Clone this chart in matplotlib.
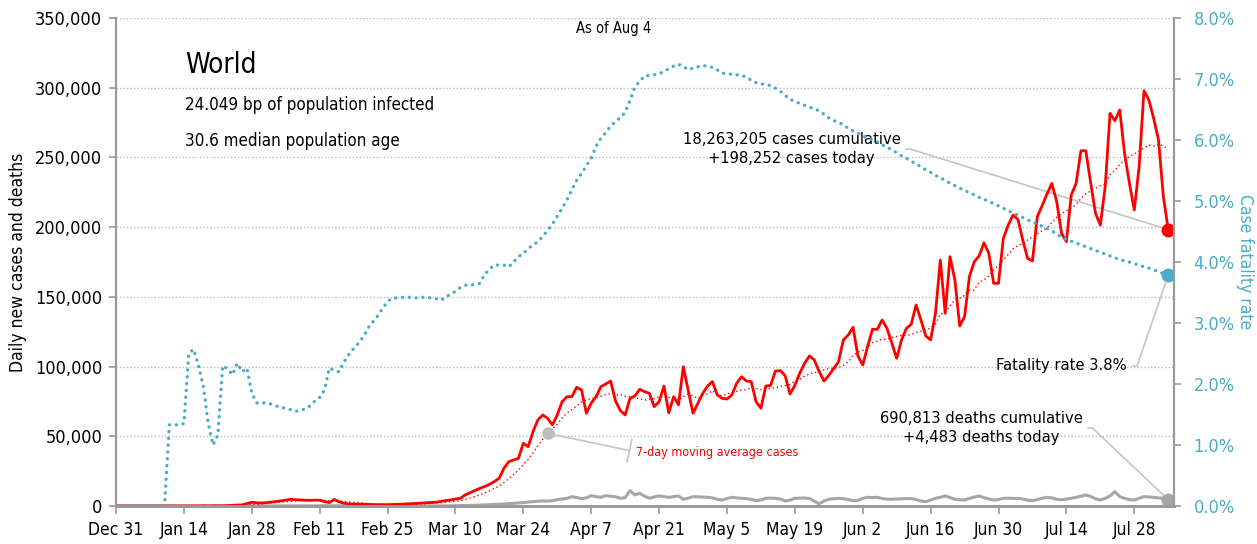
"""
    World COVID-19 daily cases / deaths and case fatality rate, as of Aug 4
"""
import matplotlib
matplotlib.use('Agg')
import matplotlib.pyplot as plt
from matplotlib.ticker import FuncFormatter, MultipleLocator
import pandas as pd

# 窄体字, 接近原图
plt.rcParams['font.family'] = ['DejaVu Sans']
plt.rcParams['font.stretch'] = 'condensed'

# 每天一个值, day 0 = Dec 31, day 217 = Aug 4
cases = [
    27, 0, 0, 17, 0, 15, 0, 0, 0, 0,
    0, 0, 0, 1, 1, 0, 4, 17, 136, 19,
    151, 140, 97, 259, 457, 688, 769, 1771, 2650, 2300,
    2100, 2400, 2800, 3200, 3700, 4200, 4800, 4500, 4300, 4100,
    4000, 4200, 4100, 3200, 2400, 4700, 3000, 2000, 1500, 1400,
    1300, 1200, 1100, 1000, 900, 1000, 900, 1100, 1200, 1300,
    1500, 1700, 1900, 2100, 2300, 2500, 2700, 3300, 3900, 4300,
    5000, 5500, 7900, 9500, 11000, 12600, 13900, 15500, 17500, 19800,
    27000, 31800, 33000, 34200, 45000, 42500, 53300, 61700, 65300, 62900,
    58100, 65300, 74800, 78400, 78400, 85100, 83200, 66500, 73700, 78400,
    85600, 87500, 89600, 75500, 68400, 65300, 77200, 78800, 83700, 82000,
    80800, 71200, 74800, 86000, 66800, 78400, 72500, 99900, 83000, 66500,
    73700, 80800, 86000, 89200, 79600, 77200, 76700, 79600, 88000, 92700,
    89600, 89200, 74800, 70100, 86000, 86500, 96800, 97100, 93400, 80300,
    86500, 95200, 102300, 107600, 104800, 96500, 89600, 93700, 98500, 103500,
    119000, 122600, 128200, 107600, 101100, 114300, 126700, 126700, 133400, 127400,
    116700, 105900, 119100, 127400, 130300, 144200, 133400, 121900, 119100, 138200,
    176400, 138200, 178800, 162100, 129100, 135800, 164500, 175200, 179300, 188800,
    181200, 159700, 159700, 192000, 201500, 208700, 205600, 190800, 177600, 175700,
    207500, 215400, 223800, 231400, 218300, 195600, 189600, 223000, 231400, 254800,
    254800, 232000, 209900, 201500, 229000, 281600, 276400, 284000, 252900, 231400,
    212300, 243300, 297900, 291200, 278000, 262500, 221800, 198252,
]

deaths = [
    0, 0, 0, 0, 0, 0, 0, 0, 0, 0,
    1, 0, 0, 0, 0, 0, 1, 0, 1, 1,
    3, 6, 9, 8, 16, 14, 26, 26, 26, 38,
    43, 46, 45, 57, 64, 66, 73, 73, 86, 89,
    97, 108, 97, 254, 143, 143, 106, 98, 115, 118,
    109, 97, 150, 71, 52, 29, 44, 37, 35, 42,
    31, 38, 31, 30, 38, 58, 67, 72, 80, 100,
    200, 270, 330, 400, 500, 650, 800, 1000, 1100, 1300,
    1400, 1600, 1900, 2200, 2400, 2800, 3100, 3400, 3700, 3500,
    3800, 4500, 5000, 5500, 6700, 6000, 5300, 5800, 7400, 6700,
    6200, 7400, 7000, 6700, 5500, 6000, 11000, 7900, 9100, 7000,
    5500, 6500, 7200, 6700, 6200, 6700, 7200, 4800, 5600, 6700,
    6500, 6400, 6200, 5800, 4800, 4300, 5300, 6200, 5800, 5500,
    5200, 4800, 3800, 4300, 5500, 5600, 5500, 5000, 3600, 4200,
    5500, 5600, 5700, 5400, 3500, 1400, 3600, 4800, 5200, 5500,
    5200, 4600, 3800, 4000, 5500, 6200, 6000, 6200, 5400, 4900,
    4800, 5000, 5200, 5300, 5300, 4600, 3600, 3100, 4200, 5500,
    6200, 7200, 6000, 4800, 4500, 4300, 5400, 6400, 7200, 6000,
    5000, 4300, 4600, 5500, 5600, 5400, 5500, 5000, 4200, 3800,
    4600, 5500, 6200, 5800, 4800, 4500, 5000, 5500, 6200, 7000,
    7900, 6800, 5200, 4300, 5500, 7200, 10300, 6700, 5500, 4500,
    4300, 5500, 6700, 6500, 6200, 5800, 5500, 4483,
]

# case fatality rate, %
cfr = [
    0, 0, 0, 0, 0, 0, 0, 0, 0, 0,
    0, 1.33, 1.33, 1.33, 1.35, 2.5, 2.57, 2.31, 1.96, 1.36,
    1.0, 1.16, 2.3, 2.25, 2.15, 2.34, 2.2, 2.26, 1.85, 1.69,
    1.69, 1.69, 1.67, 1.64, 1.62, 1.6, 1.58, 1.55, 1.57, 1.59,
    1.64, 1.72, 1.78, 1.9, 2.26, 2.22, 2.2, 2.36, 2.48, 2.58,
    2.67, 2.77, 2.92, 3.02, 3.12, 3.24, 3.35, 3.41, 3.41, 3.42,
    3.42, 3.42, 3.41, 3.42, 3.42, 3.41, 3.4, 3.37, 3.43, 3.47,
    3.52, 3.58, 3.62, 3.62, 3.63, 3.65, 3.79, 3.88, 3.95, 3.95,
    3.95, 3.92, 4.0, 4.09, 4.14, 4.22, 4.28, 4.33, 4.42, 4.52,
    4.62, 4.75, 4.88, 5.02, 5.18, 5.34, 5.45, 5.58, 5.7, 5.9,
    6.03, 6.12, 6.23, 6.3, 6.37, 6.45, 6.65, 6.87, 6.96, 7.05,
    7.06, 7.07, 7.09, 7.12, 7.17, 7.21, 7.24, 7.21, 7.15, 7.18,
    7.2, 7.22, 7.21, 7.19, 7.15, 7.1, 7.08, 7.08, 7.07, 7.06,
    7.03, 6.98, 6.94, 6.92, 6.91, 6.89, 6.85, 6.8, 6.73, 6.67,
    6.63, 6.6, 6.57, 6.54, 6.51, 6.48, 6.42, 6.36, 6.32, 6.29,
    6.25, 6.19, 6.15, 6.11, 6.07, 6.03, 6.0, 5.97, 5.92, 5.88,
    5.84, 5.79, 5.74, 5.7, 5.65, 5.61, 5.56, 5.51, 5.47, 5.42,
    5.38, 5.34, 5.29, 5.25, 5.21, 5.17, 5.14, 5.1, 5.06, 5.03,
    4.99, 4.96, 4.92, 4.88, 4.84, 4.8, 4.77, 4.73, 4.69, 4.66,
    4.62, 4.59, 4.55, 4.51, 4.46, 4.41, 4.37, 4.34, 4.31, 4.28,
    4.25, 4.22, 4.19, 4.16, 4.13, 4.1, 4.07, 4.04, 4.02, 4.0,
    3.97, 3.95, 3.92, 3.9, 3.87, 3.84, 3.81, 3.78,
]

tick_labels = ['Dec 31', 'Jan 14', 'Jan 28', 'Feb 11', 'Feb 25', 'Mar 10', 'Mar 24', 'Apr 7',
               'Apr 21', 'May 5', 'May 19', 'Jun 2', 'Jun 16', 'Jun 30', 'Jul 14', 'Jul 28']

RED = '#ff0000'
TEAL = '#4bacc6'
GRAY = '#a6a6a6'
SPINE = '#9a9a9a'
LINK = '#c8c8c8'

days = list(range(len(cases)))
avg7 = pd.Series(cases).rolling(7, min_periods=1).mean()
last = days[-1]

fig = plt.figure(figsize=(12.57, 5.44), dpi=100)
ax = fig.add_axes([0.0923, 0.0699, 0.8417, 0.897])
ax2 = ax.twinx()

# 主图
ax.plot(days, deaths, color=GRAY, lw=2.2, zorder=3)
ax.plot(days, avg7, color=RED, lw=1.0, linestyle=(0, (1, 2)), zorder=4)
ax.plot(days, cases, color=RED, lw=2.0, zorder=5)
ax.plot(last, cases[-1], 'o', color=RED, ms=9, zorder=6)
ax.plot(last, deaths[-1], 'o', color=GRAY, ms=9, zorder=6)
ax.plot(89, avg7[89], 'o', color='#bdbdbd', ms=8, zorder=6)

ax2.plot(days, cfr, color=TEAL, lw=2.4, linestyle=(0, (0.05, 2.0)), dash_capstyle='round')
ax2.plot(last, cfr[-1], 'o', color=TEAL, ms=9)

# 坐标轴
ax.set_xlim(0, 218.2)
ax.set_ylim(0, 350000)
ax2.set_ylim(0, 8)
ax.set_xticks(range(0, 14 * len(tick_labels), 14))
ax.set_xticklabels(tick_labels)
ax.yaxis.set_major_locator(MultipleLocator(50000))
ax.yaxis.set_major_formatter(FuncFormatter(lambda v, p: '{:,.0f}'.format(v)))
ax2.yaxis.set_major_locator(MultipleLocator(1))
ax2.yaxis.set_major_formatter(FuncFormatter(lambda v, p: '{:.1f}%'.format(v)))
ax.grid(axis='y', color='#bcbcbc', linestyle=(0, (1, 1.5)), lw=1)
ax.set_axisbelow(True)

for a in (ax, ax2):
    a.spines['top'].set_visible(False)
    for s in ('left', 'right', 'bottom'):
        a.spines[s].set_color(SPINE)
        a.spines[s].set_linewidth(1.5)
    a.spines['bottom'].set_linewidth(2)
ax.tick_params(axis='x', colors=SPINE, labelcolor='black', length=6, width=1.2, labelsize=12.5, pad=5)
ax.tick_params(axis='y', colors=SPINE, labelcolor='black', length=5, width=1.2, labelsize=13, pad=5)
ax2.tick_params(axis='y', colors=SPINE, labelcolor=TEAL, length=5, width=1.2, labelsize=13, pad=9)

ax.set_ylabel('Daily new cases and deaths', fontsize=12.5, labelpad=6)
ax2.set_ylabel('Case fatality rate', fontsize=12.5, color=TEAL, rotation=270, labelpad=14)

# 标题 / 注释
ax.text(14.2, 316000, 'World', fontsize=20, va='center', ha='left')
ax.text(14.2, 287500, '24.049 bp of population infected', fontsize=12.2, va='center', ha='left')
ax.text(14.2, 261700, '30.6 median population age', fontsize=12.2, va='center', ha='left')
ax.text(102.7, 342500, 'As of Aug 4', fontsize=10.5, va='center', ha='center')

ax.annotate('18,263,205 cases cumulative\n+198,252 cases today',
            xy=(last, cases[-1]), xytext=(139.3, 256000),
            fontsize=11.8, ha='center', va='center', multialignment='center', linespacing=1.3,
            arrowprops=dict(arrowstyle='-', color=LINK, lw=1.3, relpos=(1, 0.5), shrinkB=5,
                            connectionstyle='arc,angleA=0,armA=10,angleB=0,armB=0,rad=0'))
ax.annotate('690,813 deaths cumulative\n+4,483 deaths today',
            xy=(last, deaths[-1]), xytext=(178.4, 55900),
            fontsize=11.8, ha='center', va='center', multialignment='center', linespacing=1.3,
            arrowprops=dict(arrowstyle='-', color=LINK, lw=1.3, relpos=(1, 0.5), shrinkB=5,
                            connectionstyle='arc,angleA=0,armA=10,angleB=0,armB=0,rad=0'))
ax2.annotate('Fatality rate 3.8%',
             xy=(last, cfr[-1]), xytext=(208.5, 100400), textcoords=ax.transData,
             fontsize=11.8, ha='right', va='center',
             arrowprops=dict(arrowstyle='-', color=LINK, lw=1.3, relpos=(1, 0.5), shrinkB=5,
                             connectionstyle='arc,angleA=0,armA=10,angleB=0,armB=0,rad=0'))
ax.annotate('7-day moving average cases',
            xy=(89, avg7[89]), xytext=(107.3, 38700),
            fontsize=9, color=RED, ha='left', va='center',
            arrowprops=dict(arrowstyle=']-,widthA=0.9,lengthA=0', color=LINK, lw=1.3,
                            relpos=(0, 0.5), shrinkA=3, shrinkB=4))

fig.savefig('out.png', dpi=100)
